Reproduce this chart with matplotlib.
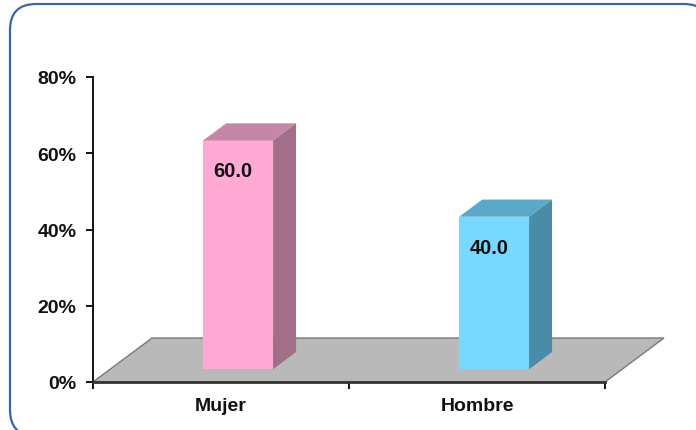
import matplotlib
matplotlib.use("Agg")
import matplotlib.pyplot as plt
from matplotlib.patches import Polygon, FancyBboxPatch

# ---------------------------
# data
# ---------------------------
categories = ["Mujer", "Hombre"]
values = [60.0, 40.0]
front_colors = ["#FFA9D5", "#78D8FF"]
top_colors = ["#C686A8", "#5AA9C9"]
side_colors = ["#A26F88", "#4A8CA8"]

yticks = [0, 20, 40, 60, 80]
ytick_labels = ["0%", "20%", "40%", "60%", "80%"]

# pseudo 3D settings (in data units)
depth_dx = 0.2305     # floor depth, x units
depth_dy = 11.54      # floor depth, percent units
bar_front = 0.29      # fraction of depth where bar front sits
bar_back = 0.68
bar_width = 0.273

W, H = 696, 431
fig = plt.figure(figsize=(W / 100, H / 100), dpi=100)

# rounded frame in inches (extends past the bottom / right edge like the original)
frame = FancyBboxPatch((0.10, -0.06), 7.00, 4.32,
                       boxstyle="round,pad=0,rounding_size=0.26",
                       transform=fig.dpi_scale_trans, facecolor="white",
                       edgecolor="#3a66a8", linewidth=1.6, zorder=-1)
fig.patches.append(frame)

ax = fig.add_axes([93 / W, 48 / H, 512 / W, 305 / H])
ax.set_xlim(0, 2)
ax.set_ylim(0, 80)
ax.patch.set_alpha(0)

# floor
floor = Polygon([(0, 0), (2, 0), (2 + depth_dx, depth_dy), (depth_dx, depth_dy)],
                closed=True, facecolor="#B9B9B9", edgecolor="#7a7a7a",
                linewidth=1.0, clip_on=False, zorder=1)
ax.add_patch(floor)

# bars
for i, (cat, val) in enumerate(zip(categories, values)):
    cx = i + 0.5 + bar_front * depth_dx
    x0 = cx - bar_width / 2
    x1 = cx + bar_width / 2
    y0 = bar_front * depth_dy
    y1 = y0 + val
    ddx = (bar_back - bar_front) * depth_dx
    ddy = (bar_back - bar_front) * depth_dy
    front = Polygon([(x0, y0), (x1, y0), (x1, y1), (x0, y1)],
                    facecolor=front_colors[i], edgecolor="none", clip_on=False, zorder=3)
    top = Polygon([(x0, y1), (x1, y1), (x1 + ddx, y1 + ddy), (x0 + ddx, y1 + ddy)],
                  facecolor=top_colors[i], edgecolor="none", clip_on=False, zorder=3)
    side = Polygon([(x1, y0), (x1 + ddx, y0 + ddy), (x1 + ddx, y1 + ddy), (x1, y1)],
                   facecolor=side_colors[i], edgecolor="none", clip_on=False, zorder=3)
    for p in (front, top, side):
        ax.add_patch(p)
    ax.text(cx - 0.02, y1 - 8, f"{val:.1f}", ha="center", va="center",
            fontsize=14.5, fontweight="bold", color="#111111",
            family="Liberation Sans", zorder=4)

# axes styling
for s in ("top", "right"):
    ax.spines[s].set_visible(False)
ax.spines["left"].set_linewidth(1.3)
ax.spines["bottom"].set_linewidth(2.0)
ax.spines["bottom"].set_color("#333333")
ax.spines["left"].set_zorder(5)
ax.spines["bottom"].set_zorder(5)

ax.set_yticks(yticks)
ax.set_yticklabels(ytick_labels)
ax.set_xticks([0, 1, 2])
ax.set_xticklabels([])
ax.set_xticks([0.5, 1.5], minor=True)
ax.set_xticklabels(categories, minor=True)
ax.tick_params(axis="x", which="minor", length=0, pad=11)
ax.tick_params(axis="x", which="major", length=5, width=1.3, direction="out")
ax.tick_params(axis="y", length=5, width=1.3, direction="out", pad=7)
for lab in ax.get_yticklabels() + ax.get_xticklabels(minor=True):
    lab.set_fontfamily("Liberation Sans")
    lab.set_fontweight("bold")
    lab.set_fontsize(14)
    lab.set_color("#111111")

fig.savefig("out.png", dpi=100)
